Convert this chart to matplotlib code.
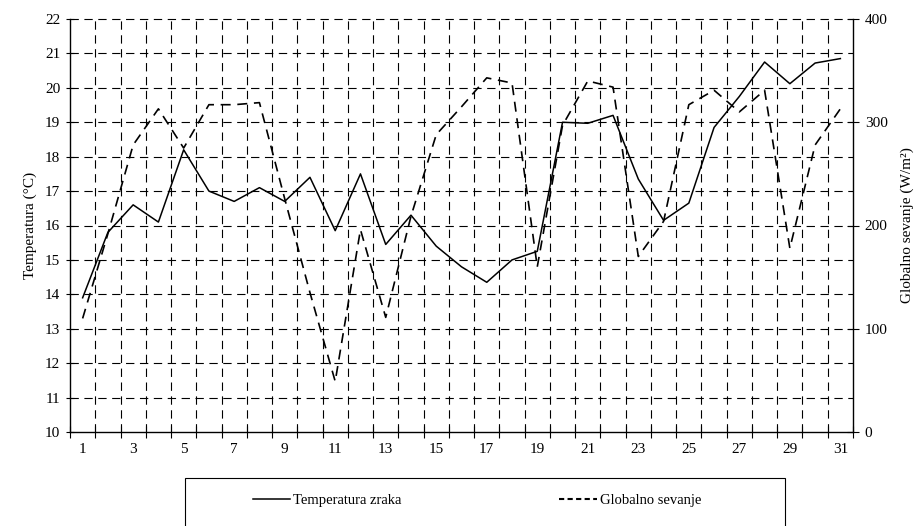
import numpy as np
import matplotlib
matplotlib.use("Agg")
import matplotlib.pyplot as plt
from matplotlib.patches import Rectangle
from matplotlib.lines import Line2D

plt.rcParams['font.family'] = ['Liberation Serif', 'DejaVu Serif']
plt.rcParams['font.size'] = 11

# data
days = list(range(1, 32))
temperatura = [13.9, 15.8, 16.6, 16.1, 18.2, 17.0, 16.7, 17.1, 16.7, 17.4,
               15.85, 17.5, 15.45, 16.3, 15.4, 14.8, 14.35, 15.0, 15.25, 19.0,
               18.97, 19.2, 17.35, 16.15, 16.65, 18.85, 19.75, 20.75, 20.12, 20.72,
               20.85]
sevanje = [110, 192, 278, 313, 275, 317, 317, 319, 226, 135,
           49, 196, 111, 209, 288, 315, 343, 338, 160, 297,
           340, 334, 170, 204, 317, 331, 310, 331, 178, 278,
           313]
xtick_labels = [str(d) for d in range(1, 32, 2)]

fig = plt.figure(figsize=(9.2, 5.26), dpi=100)
ax = fig.add_axes([70/920, 1 - 432/526, (853-70)/920, (432-19)/526])
ax2 = ax.twinx()

dash = (0, (7.5, 5))
ax.plot(days, temperatura, color='black', lw=1.1, zorder=3)
ax2.plot(days, sevanje, color='black', lw=1.2, linestyle=(0, (6, 4)), zorder=3)

ax.set_xlim(0.5, 31.5)
ax.set_ylim(10, 22)
ax2.set_ylim(0, 400)

# grid
for y in range(11, 23):
    ax.axhline(y, color='black', lw=0.8, linestyle=dash, zorder=1, clip_on=False)
for x in np.arange(1.5, 31, 1.0):
    ax.axvline(x, color='black', lw=0.8, linestyle=dash, zorder=1)

ax.set_xticks(range(1, 32, 2))
ax.set_xticklabels(xtick_labels)
ax.set_xticks(np.arange(0.5, 31.6, 1.0), minor=True)
ax.tick_params(axis='x', which='major', length=0, pad=8)
ax.tick_params(axis='x', which='minor', direction='inout', length=8, width=0.8)
ax.set_yticks(range(10, 23))
ax.tick_params(axis='y', direction='inout', length=6, width=0.8, pad=4)
ax2.set_yticks(range(0, 401, 100))
ax2.tick_params(axis='y', direction='inout', length=9, width=0.8, pad=4)

for s in ['top', 'right']:
    ax.spines[s].set_visible(False)
for s in ['top', 'left', 'bottom']:
    ax2.spines[s].set_visible(False)
for a in (ax, ax2):
    for s in a.spines.values():
        s.set_linewidth(1.0)

ax.set_ylabel('Temperatura (°C)', labelpad=6)
ax2.set_ylabel('Globalno sevanje (W/m²)', labelpad=9)

# legend box
fig.patches.append(Rectangle((185/920, -0.05), 600/920, 0.05 + (526-478)/526,
                             transform=fig.transFigure, fill=False,
                             edgecolor='black', lw=0.8))
handles = [Line2D([], [], color='black', lw=1.1),
           Line2D([], [], color='black', lw=1.5, linestyle=(0, (2.5, 1.6)))]
fig.legend(handles, ['Temperatura zraka', 'Globalno sevanje'],
           loc='center', bbox_to_anchor=(477/920, 1 - 500/526), ncol=2,
           frameon=False, fontsize=10.5, handlelength=2.6, handletextpad=0.2,
           columnspacing=10.8)

fig.savefig('out.png', dpi=100)
